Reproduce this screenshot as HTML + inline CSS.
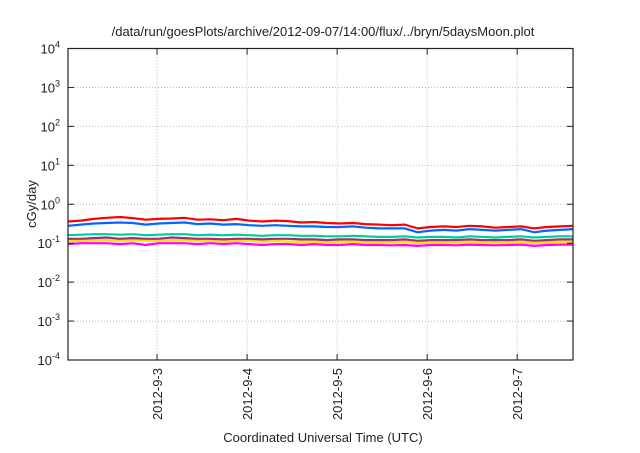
<!DOCTYPE html>
<html><head><meta charset="utf-8"><style>
body{margin:0;background:#fff;font-family:"Liberation Sans",sans-serif}
svg text{font-family:"Liberation Sans",sans-serif;fill:#222}
</style></head><body>
<svg id="chart" width="640" height="448" viewBox="0 0 640 448">
<text x="323" y="36" font-size="13" text-anchor="middle">/data/run/goesPlots/archive/2012-09-07/14:00/flux/../bryn/5daysMoon.plot</text>
<g id="grid"></g><g id="series"></g><g id="axes"></g>
<rect x="68" y="48.5" width="505" height="311.5" fill="none" stroke="#222" stroke-width="1.2"/>
<text transform="translate(36,204) rotate(-90)" font-size="13" text-anchor="middle">cGy/day</text>
<text x="323" y="442" font-size="13" text-anchor="middle">Coordinated Universal Time (UTC)</text>
</svg>
<script>
const xTickLabels=["2012-9-3","2012-9-4","2012-9-5","2012-9-6","2012-9-7"];
const xTickDays=[3,4,5,6,7];
const yExps=[-4,-3,-2,-1,0,1,2,3,4];
const xStart=2.011, xEnd=7.62;
const red=[0.36,0.38,0.42,0.45,0.47,0.44,0.40,0.42,0.43,0.45,0.40,0.41,0.39,0.42,0.38,0.36,0.38,0.37,0.34,0.35,0.33,0.32,0.33,0.31,0.30,0.29,0.30,0.24,0.26,0.27,0.26,0.28,0.27,0.25,0.26,0.27,0.24,0.26,0.27,0.28];
const blue=[0.28,0.30,0.32,0.33,0.34,0.33,0.30,0.32,0.33,0.34,0.31,0.32,0.30,0.31,0.29,0.28,0.29,0.28,0.27,0.27,0.26,0.26,0.27,0.25,0.24,0.24,0.24,0.19,0.21,0.22,0.21,0.23,0.22,0.21,0.22,0.23,0.19,0.21,0.22,0.23];
const green=[0.16,0.165,0.17,0.17,0.165,0.17,0.16,0.165,0.17,0.17,0.16,0.165,0.16,0.165,0.16,0.155,0.16,0.16,0.155,0.155,0.15,0.15,0.155,0.15,0.145,0.145,0.15,0.14,0.145,0.145,0.14,0.15,0.145,0.14,0.145,0.15,0.14,0.145,0.15,0.15];
const purple=[0.13,0.13,0.135,0.14,0.13,0.135,0.13,0.13,0.14,0.135,0.13,0.13,0.125,0.13,0.13,0.125,0.13,0.13,0.125,0.125,0.12,0.125,0.125,0.12,0.12,0.12,0.125,0.115,0.12,0.12,0.12,0.125,0.12,0.12,0.12,0.125,0.115,0.12,0.125,0.125];
const yellow=[0.115,0.115,0.12,0.12,0.115,0.12,0.115,0.115,0.12,0.12,0.115,0.115,0.11,0.115,0.115,0.11,0.115,0.11,0.11,0.11,0.105,0.11,0.11,0.105,0.105,0.105,0.11,0.1,0.105,0.105,0.105,0.11,0.105,0.105,0.105,0.11,0.1,0.105,0.11,0.11];
const magenta=[0.095,0.1,0.1,0.1,0.095,0.1,0.09,0.1,0.1,0.1,0.095,0.1,0.095,0.1,0.095,0.09,0.095,0.095,0.09,0.095,0.09,0.09,0.095,0.09,0.09,0.088,0.09,0.085,0.09,0.09,0.088,0.092,0.09,0.088,0.09,0.092,0.085,0.09,0.092,0.092];
const seriesList=[[magenta,"#ff00ff"],[yellow,"#ffdd00"],[purple,"#993377"],[green,"#00cc99"],[blue,"#0066ff"],[red,"#ff0000"]];
const L=68,R=573,T=48.5,B=360;
const xs=d=>L+(d-xStart)/(xEnd-xStart)*(R-L);
const ys=v=>B-(Math.log10(v)+4)/8*(B-T);
const NS="http://www.w3.org/2000/svg";
const g=document.getElementById('grid'),s=document.getElementById('series'),a=document.getElementById('axes');
function el(t,at,p){const e=document.createElementNS(NS,t);for(const k in at)e.setAttribute(k,at[k]);p.appendChild(e);return e;}
yExps.forEach(ex=>{
  const y=ys(Math.pow(10,ex));
  if(ex>-4&&ex<4){const l=el('line',{x1:L,x2:R,y1:y,y2:y,stroke:'#bbb','stroke-dasharray':'1,2'},g);
  
  }
  const t=el('text',{x:L-8,y:y+5,'font-size':13,'text-anchor':'end'},a);
  
  
  t.textContent='10';
  const sp=el('tspan',{dy:-6,'font-size':9},t);sp.textContent=String(ex);
  el('line',{x1:L,x2:L+6,y1:y,y2:y,stroke:'#222'},a);
  el('line',{x1:R-6,x2:R,y1:y,y2:y,stroke:'#222'},a);
});
xTickDays.forEach((d,i)=>{
  const x=xs(d);
  const l=el('line',{x1:x,x2:x,y1:T,y2:B,stroke:'#bbb','stroke-dasharray':'1,2'},g);
  
  
  el('line',{x1:x,x2:x,y1:B-6,y2:B,stroke:'#222'},a);
  el('line',{x1:x,x2:x,y1:T,y2:T+6,stroke:'#222'},a);
  const t=el('text',{transform:`translate(${x+5},${B+8}) rotate(-90)`,'font-size':13,'text-anchor':'end'},a);
  
  
  t.textContent=xTickLabels[i];
});
seriesList.forEach(([vals,c])=>{
  const n=vals.length;
  const pts=vals.map((v,i)=>xs(xStart+i*(xEnd-xStart)/(n-1)).toFixed(1)+','+ys(v).toFixed(1)).join(' ');
  const p=el('polyline',{points:pts,fill:'none',stroke:c,'stroke-width':2.2},s);
  
  
});
</script>
</body></html>
